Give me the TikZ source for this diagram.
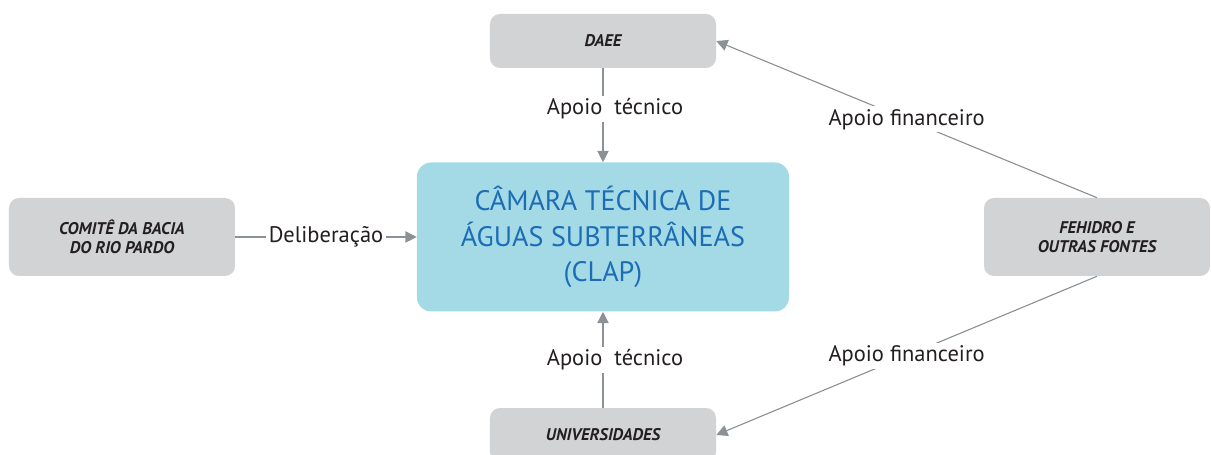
\documentclass[tikz,border=0pt]{standalone}
\usepackage{fontspec}
\setmainfont{PT Sans}
\usepackage{tikz}
\usetikzlibrary{shapes.geometric, arrows.meta}
\definecolor{boxgray}{HTML}{D1D3D4}
\definecolor{clapcyan}{HTML}{A3DAE5}
\definecolor{clapblue}{HTML}{1C6DB5}
\definecolor{linegray}{HTML}{8C9196}
\definecolor{textdark}{HTML}{231F20}
\tikzstyle{orgbox} = [rectangle, rounded corners=0.25cm, minimum width=5.65cm, minimum height=1.35cm, text centered, align=center, fill=boxgray, text=textdark, font=\fontsize{12}{13.5}\selectfont\bfseries\itshape]
\tikzstyle{orgbox2} = [orgbox, minimum height=1.95cm]
\tikzstyle{clapbox} = [rectangle, rounded corners=0.35cm, minimum width=9.3cm, minimum height=3.725cm, text centered, align=center, fill=clapcyan, text=clapblue, font=\fontsize{20}{25}\selectfont]
\tikzstyle{arrow} = [thick,->,>={Triangle[length=8pt,width=8pt]}, draw=linegray]
\tikzstyle{tag} = [fill=white, text=textdark, inner sep=2pt, font=\fontsize{16}{18}\selectfont]

\begin{document}
\begin{tikzpicture}
	\useasboundingbox (-15.075,-5.45) rectangle (15.2,5.925);
	\node (clap) [clapbox] {CÂMARA TÉCNICA DE\\ÁGUAS SUBTERRÂNEAS\\(CLAP)};
	\node (daee) [orgbox, above of=clap, yshift=3.9cm] {DAEE};
	\node (univ) [orgbox, below of=clap, yshift=-3.95cm] {UNIVERSIDADES};
	\node (comite) [orgbox2, left of=clap, xshift=-11.025cm] {COMITÊ DA BACIA\\DO RIO PARDO};
	\node (fehidro) [orgbox2, right of=clap, xshift=11.35cm] {FEHIDRO E\\OUTRAS FONTES};
	\draw [arrow] (daee) -- node [tag, xshift=0.3cm, pos=0.43] {Apoio\ \ técnico} (clap);
	\draw [arrow] (univ) -- node [tag, xshift=0.3cm, pos=0.5] {Apoio\ \ técnico} (clap);
	\draw [arrow] (comite) -- node [tag] {Deliberação} (clap);
	\draw [arrow] (fehidro.north) -- node [tag] {Apoio financeiro} (daee.east);
	\draw [arrow] (fehidro.south) -- node [tag] {Apoio financeiro} (univ.east);
\end{tikzpicture}
\end{document}
